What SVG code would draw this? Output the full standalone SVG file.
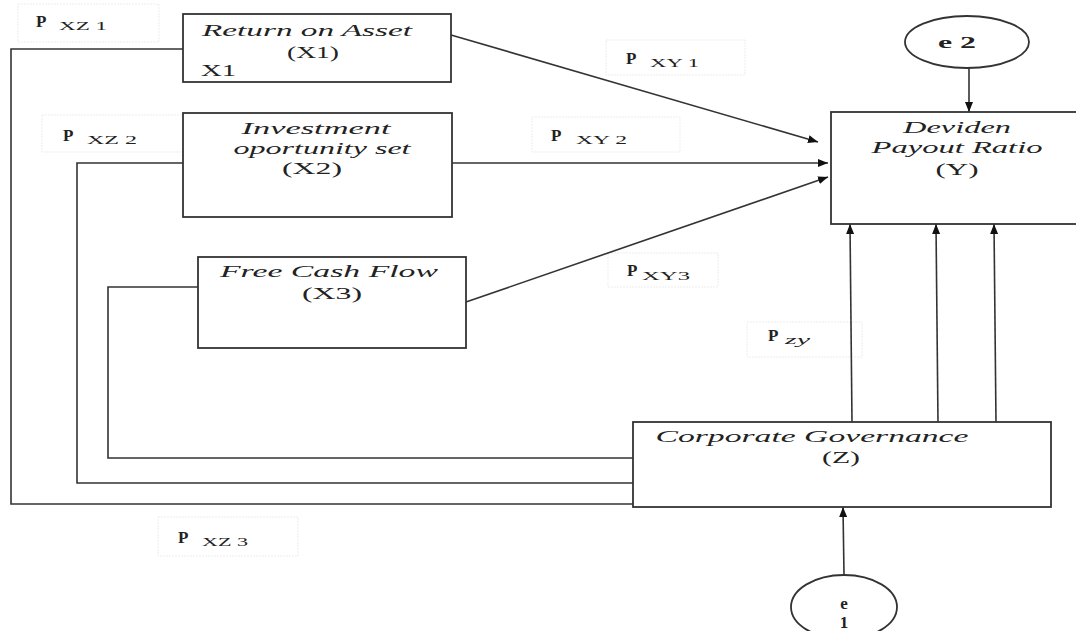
<svg xmlns="http://www.w3.org/2000/svg" width="1076" height="631" viewBox="0 0 1076 631">
<style>
.box{fill:#fff;stroke:#333;stroke-width:1.8}
.lbl{fill:#fff;stroke:#ededed;stroke-width:1;stroke-dasharray:2 1}
.ln{fill:none;stroke:#333;stroke-width:1.6}
.t{font-family:"Liberation Serif",serif;font-size:17px;fill:#222}
.it{font-style:italic}
.b{font-weight:bold}
.sub{font-family:"Liberation Serif",serif;font-size:13px;fill:#222}
</style>
<defs>
<marker id="ah" viewBox="0 0 10 10" refX="10" refY="5" markerWidth="10" markerHeight="10" markerUnits="userSpaceOnUse" orient="auto">
<path d="M0,1 L10,5 L0,9 Z" fill="#111"/>
</marker>
</defs>
<rect width="1076" height="631" fill="#fff"/>

<g id="labels">
<g id="lbl-pxz1"><rect class="lbl" x="18" y="4" width="141" height="38"/><text class="t b" x="36" y="27">P</text><text class="sub" x="59" y="30" textLength="48" lengthAdjust="spacingAndGlyphs">XZ 1</text></g>
<g id="lbl-pxz2"><rect class="lbl" x="42" y="115" width="141" height="37"/><text class="t b" x="63" y="141">P</text><text class="sub" x="87" y="144" textLength="50" lengthAdjust="spacingAndGlyphs">XZ 2</text></g>
<g id="lbl-pxz3"><rect class="lbl" x="158" y="517" width="140" height="39"/><text class="t b" x="178" y="543">P</text><text class="sub" x="202" y="546" textLength="46" lengthAdjust="spacingAndGlyphs">XZ 3</text></g>
<g id="lbl-pxy1"><rect class="lbl" x="606" y="40" width="139" height="35"/><text class="t b" x="626" y="64">P</text><text class="sub" x="650" y="67" textLength="49" lengthAdjust="spacingAndGlyphs">XY 1</text></g>
<g id="lbl-pxy2"><rect class="lbl" x="532" y="117" width="148" height="35"/><text class="t b" x="551" y="141">P</text><text class="sub" x="576" y="144" textLength="51" lengthAdjust="spacingAndGlyphs">XY 2</text></g>
<g id="lbl-pxy3"><rect class="lbl" x="608" y="253" width="110" height="34"/><text class="t b" x="627" y="276">P</text><text class="sub" x="642" y="280" textLength="48" lengthAdjust="spacingAndGlyphs">XY3</text></g>
<g id="lbl-pzy"><rect class="lbl" x="747" y="322" width="115" height="35"/><text class="t b" x="768" y="341">P</text><text class="sub it" x="785" y="344" textLength="25" lengthAdjust="spacingAndGlyphs">zy</text></g>
</g>

<g id="connectors">
<path class="ln" d="M183,49 H11 V504 H633"/>
<path class="ln" d="M183,163 H77 V483 H633"/>
<path class="ln" d="M198,287 H108 V458 H633"/>
<line class="ln" x1="451" y1="35" x2="818" y2="142" marker-end="url(#ah)"/>
<line class="ln" x1="452" y1="163" x2="828" y2="163" marker-end="url(#ah)"/>
<line class="ln" x1="466" y1="302" x2="828" y2="177" marker-end="url(#ah)"/>
<line class="ln" x1="969" y1="68" x2="969" y2="112" marker-end="url(#ah)"/>
<line class="ln" x1="852" y1="422" x2="850" y2="224" marker-end="url(#ah)"/>
<line class="ln" x1="938" y1="422" x2="936" y2="224" marker-end="url(#ah)"/>
<line class="ln" x1="996" y1="422" x2="994" y2="224" marker-end="url(#ah)"/>
<line class="ln" x1="844" y1="575" x2="843" y2="507" marker-end="url(#ah)"/>
</g>

<g id="node-x1">
<rect class="box" x="183" y="14" width="268" height="68"/>
<text class="t it" x="307" y="36" text-anchor="middle" textLength="210" lengthAdjust="spacingAndGlyphs">Return on Asset</text>
<text class="t" x="313" y="58" text-anchor="middle" textLength="52" lengthAdjust="spacingAndGlyphs">(X1)</text>
<text class="t" x="201" y="76" textLength="35" lengthAdjust="spacingAndGlyphs">X1</text>
</g>

<g id="node-x2">
<rect class="box" x="183" y="113" width="269" height="104"/>
<text class="t it" x="316" y="134" text-anchor="middle" textLength="149" lengthAdjust="spacingAndGlyphs">Investment</text>
<text class="t it" x="322" y="154" text-anchor="middle" textLength="177" lengthAdjust="spacingAndGlyphs">oportunity set</text>
<text class="t" x="312" y="174" text-anchor="middle" textLength="60" lengthAdjust="spacingAndGlyphs">(X2)</text>
</g>

<g id="node-x3">
<rect class="box" x="198" y="257" width="268" height="91"/>
<text class="t it" x="329" y="277" text-anchor="middle" textLength="218" lengthAdjust="spacingAndGlyphs">Free Cash Flow</text>
<text class="t" x="332" y="299" text-anchor="middle" textLength="60" lengthAdjust="spacingAndGlyphs">(X3)</text>
</g>

<g id="node-y">
<rect class="box" x="831" y="112" width="260" height="112"/>
<text class="t it" x="957" y="133" text-anchor="middle" textLength="108" lengthAdjust="spacingAndGlyphs">Deviden</text>
<text class="t it" x="957" y="153" text-anchor="middle" textLength="171" lengthAdjust="spacingAndGlyphs">Payout Ratio</text>
<text class="t" x="957" y="175" text-anchor="middle" textLength="43" lengthAdjust="spacingAndGlyphs">(Y)</text>
</g>

<g id="node-z">
<rect class="box" x="633" y="422" width="418" height="85"/>
<text class="t it" x="812" y="442" text-anchor="middle" textLength="313" lengthAdjust="spacingAndGlyphs">Corporate Governance</text>
<text class="t" x="841" y="463" text-anchor="middle" textLength="38" lengthAdjust="spacingAndGlyphs">(Z)</text>
</g>

<g id="node-e2">
<ellipse class="box" cx="967" cy="42" rx="62" ry="26"/>
<text class="t b" x="957" y="48" text-anchor="middle" textLength="38" lengthAdjust="spacingAndGlyphs">e 2</text>
</g>

<g id="node-e1">
<ellipse class="box" cx="844" cy="607" rx="53" ry="32"/>
<text class="t b" x="844" y="609" text-anchor="middle">e</text>
<text class="t b" x="844" y="628" text-anchor="middle">1</text>
</g>
</svg>
